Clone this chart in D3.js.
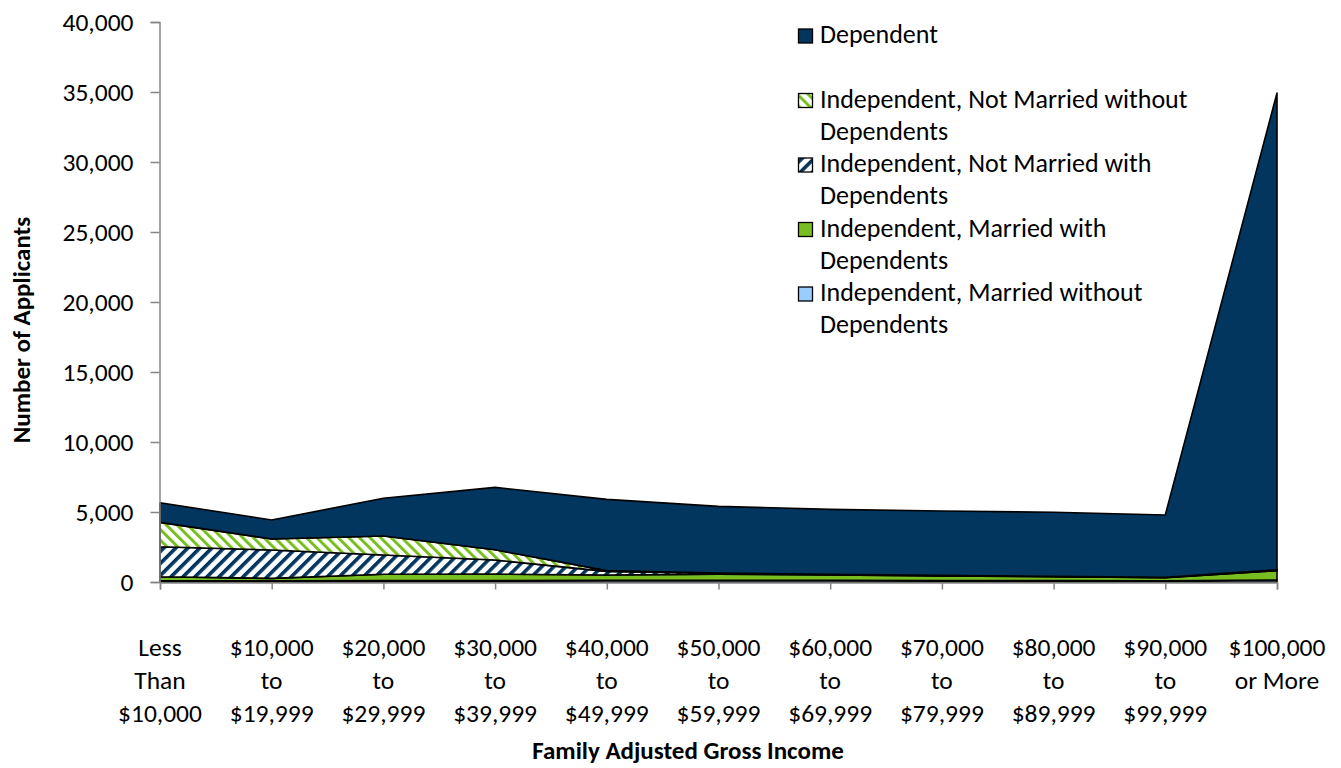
<!DOCTYPE html>
<html>
<head>
<meta charset="utf-8">
<script src="https://cdn.jsdelivr.net/npm/d3@7"></script>
<style>
  body { margin: 0; background: #fff; }
  svg { font-family: Calibri, Carlito, Lato, 'Open Sans', sans-serif; }
</style>
</head>
<body>
<div id="chart"></div>
<script>
// categories (family adjusted gross income), tick labels split in lines
const categories = [
  ['Less', 'Than', '$10,000'],
  ['$10,000', 'to', '$19,999'],
  ['$20,000', 'to', '$29,999'],
  ['$30,000', 'to', '$39,999'],
  ['$40,000', 'to', '$49,999'],
  ['$50,000', 'to', '$59,999'],
  ['$60,000', 'to', '$69,999'],
  ['$70,000', 'to', '$79,999'],
  ['$80,000', 'to', '$89,999'],
  ['$90,000', 'to', '$99,999'],
  ['$100,000', 'or More']
]

// series values, stacked bottom to top
const marriedWithout = [100, 80, 100, 100, 120, 120, 120, 110, 100, 90, 150]
const marriedWith = [280, 180, 450, 460, 380, 440, 380, 320, 280, 220, 660]
const notMarriedWith = [2140, 2030, 1380, 1010, 260, 60, 40, 30, 25, 20, 40]
const notMarriedWithout = [1740, 780, 1360, 730, 50, 20, 15, 10, 10, 10, 20]
const dependent = [1400, 1360, 2690, 4460, 5090, 4760, 4635, 4600, 4565, 4450, 34060]

const yTicks = [0, 5000, 10000, 15000, 20000, 25000, 30000, 35000, 40000]

const series = [
  { key: 'mwo', name: 'Independent, Married without Dependents', values: marriedWithout, fill: '#99ccff' },
  { key: 'mw', name: 'Independent, Married with Dependents', values: marriedWith, fill: '#78be20' },
  { key: 'nmw', name: 'Independent, Not Married with Dependents', values: notMarriedWith, fill: 'url(#hatchNavy)' },
  { key: 'nmwo', name: 'Independent, Not Married without Dependents', values: notMarriedWithout, fill: 'url(#hatchGreen)' },
  { key: 'dep', name: 'Dependent', values: dependent, fill: '#02365f' }
]

const navy = '#02365f'
const green = '#78be20'
const fontSize = 25.5
const width = 1341
const height = 768

const rows = categories.map((c, i) => {
  const r = { i }
  series.forEach(s => { r[s.key] = s.values[i] })
  return r
})

const stacked = d3.stack().keys(series.map(s => s.key))(rows)

const x = d3.scaleLinear().domain([0, categories.length - 1]).range([160, 1277])
const y = d3.scaleLinear().domain([0, 40000]).range([582, 22])

const svg = d3.select('#chart').append('svg')
    .attr('width', width)
    .attr('height', height)

const defs = svg.append('defs')

// wide diagonal hatches
function hatch (id, color, angle, size, thick) {
  const p = defs.append('pattern')
      .attr('id', id)
      .attr('patternUnits', 'userSpaceOnUse')
      .attr('width', size)
      .attr('height', size)
      .attr('patternTransform', `rotate(${angle})`)
  p.append('rect').attr('width', size).attr('height', size).attr('fill', '#fff')
  p.append('rect').attr('width', thick).attr('height', size).attr('fill', color)
}
hatch('hatchNavy', navy, 45, 8.5, 3.6)
hatch('hatchGreen', green, -45, 7.5, 3)

const area = d3.area()
    .x((d, i) => x(i))
    .y0(d => y(d[0]))
    .y1(d => y(d[1]))

svg.append('g')
  .selectAll('path')
  .data(stacked)
  .enter().append('path')
    .attr('d', area)
    .attr('fill', (d, i) => series[i].fill)
    .attr('stroke', '#000')
    .attr('stroke-width', 1.6)
    .attr('stroke-linejoin', 'round')

// y axis
const yAxis = svg.append('g')
    .attr('transform', 'translate(159.5,0)')
    .call(d3.axisLeft(y).tickValues(yTicks).tickSize(9).tickPadding(17).tickFormat(d3.format(',')))
yAxis.attr('font-family', null).attr('font-size', fontSize)
yAxis.select('.domain').attr('stroke', '#868686').attr('stroke-width', 1.5)
yAxis.selectAll('.tick line').attr('stroke', '#868686').attr('stroke-width', 1.5)
yAxis.selectAll('.tick text').attr('fill', '#000')

// x axis
const xAxis = svg.append('g')
    .attr('transform', 'translate(0,582.5)')
    .call(d3.axisBottom(x).tickValues(d3.range(categories.length)).tickSize(7).tickFormat(''))
xAxis.select('.domain').attr('stroke', '#868686').attr('stroke-width', 1.5)
xAxis.selectAll('.tick line').attr('stroke', '#868686').attr('stroke-width', 1.5)

const xl = svg.append('g')
  .selectAll('text')
  .data(categories)
  .enter().append('text')
    .attr('text-anchor', 'middle')
    .attr('font-size', fontSize)
    .attr('fill', '#000')
xl.selectAll('tspan')
  .data((d, i) => d.map(t => ({ t, i })))
  .enter().append('tspan')
    .attr('x', d => x(d.i))
    .attr('y', (d, j) => 656 + j * 33)
    .text(d => d.t)

// axis titles
svg.append('text')
    .attr('transform', 'translate(30,330) rotate(-90)')
    .attr('text-anchor', 'middle')
    .attr('font-size', 25)
    .attr('font-weight', 'bold')
    .text('Number of Applicants')

svg.append('text')
    .attr('x', 688)
    .attr('y', 759)
    .attr('text-anchor', 'middle')
    .attr('font-size', 25)
    .attr('font-weight', 'bold')
    .text('Family Adjusted Gross Income')

// legend, top series first
const legendItems = series.slice().reverse()
const legend = svg.append('g').attr('transform', 'translate(798,43)')
const li = legend.selectAll('g')
  .data(legendItems)
  .enter().append('g')
    .attr('transform', (d, i) => `translate(0,${i * 64.5})`)
li.append('rect')
    .attr('x', 0.5)
    .attr('y', -14)
    .attr('width', 14)
    .attr('height', 14)
    .attr('fill', d => d.fill)
    .attr('stroke', '#000')
    .attr('stroke-width', 1.3)
const lt = li.append('text')
    .attr('font-size', 26)
    .attr('fill', '#000')
lt.selectAll('tspan')
  .data(d => {
    if (d.key === 'dep') return [d.name]
    const k = d.name.lastIndexOf(' ')
    return [d.name.slice(0, k), d.name.slice(k + 1)]
  })
  .enter().append('tspan')
    .attr('x', 22)
    .attr('y', (d, j) => j * 32.2)
    .text(d => d)
</script>
</body>
</html>
